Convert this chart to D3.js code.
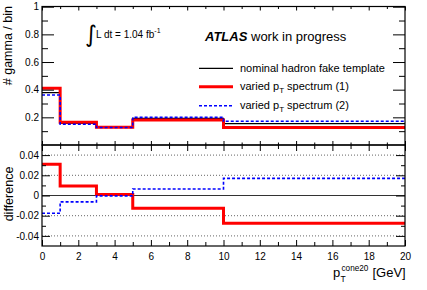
<!DOCTYPE html>
<html>
<head>
<meta charset="utf-8">
<script src="https://cdn.jsdelivr.net/npm/d3@7"></script>
<style>
  html, body { margin: 0; padding: 0; background: #fff; }
  svg { display: block; font-family: "Liberation Sans", Arial, Helvetica, sans-serif; }
</style>
</head>
<body>
<svg id="chart" width="427" height="290"></svg>
<script>
// ---- data ----
const binEdges   = [0, 1, 3, 5, 10, 20];
const nominal    = [0.379, 0.156, 0.127, 0.193, 0.1545];
const variedOne  = [0.410, 0.165, 0.128, 0.180, 0.127];
const variedTwo  = [0.361, 0.150, 0.127, 0.1995, 0.1715];
const diffOne    = [0.031, 0.0094, 0.001, -0.0127, -0.0275];
const diffTwo    = [-0.0176, -0.0063, -0.0004, 0.0065, 0.017];
const xMajorTicks = [0, 2, 4, 6, 8, 10, 12, 14, 16, 18, 20];
const xMinorTicks = [1, 3, 5, 7, 9, 11, 13, 15, 17, 19];
const topYMajor  = [0.2, 0.4, 0.6, 0.8, 1];
const topYMinor  = [0.1, 0.3, 0.5, 0.7, 0.9];
const diffYMajor = [-0.04, -0.02, 0, 0.02, 0.04];
const diffYMinor = [-0.03, -0.01, 0.01, 0.03];
const diffGrid   = [-0.04, -0.02, 0.02, 0.04];
const legendLabels = ["nominal hadron fake template", "varied p_T spectrum (1)", "varied p_T spectrum (2)"];

const svg = d3.select("#chart");
const L = 42, R = 405;
const topT = 6.5, topB = 145, botT = 145, botB = 246;

const x = d3.scaleLinear().domain([0, 20]).range([L, R]);
const yTop = d3.scaleLinear().domain([0, 1]).range([topB, 6.7]);
const yBot = d3.scaleLinear().domain([-0.05, 0.05]).range([botB, botT]);

const styles = [
  { stroke: "#000", width: 1.2, dash: null },
  { stroke: "#ff0000", width: 3, dash: null },
  { stroke: "#0000ff", width: 1.6, dash: "3,2" }
];

function stepPoints(vals) {
  return binEdges.map((e, i) => [e, vals[Math.min(i, vals.length - 1)]]);
}
function drawStep(g, vals, yScale, st) {
  const line = d3.line().x(d => x(d[0])).y(d => yScale(d[1])).curve(d3.curveStepAfter);
  g.append("path").datum(stepPoints(vals)).attr("d", line)
    .attr("fill", "none").attr("stroke", st.stroke).attr("stroke-width", st.width)
    .attr("stroke-dasharray", st.dash);
}
function cleanAxis(g) { g.select(".domain").remove(); g.selectAll("line").attr("stroke", "#000"); }

// ---- bottom panel grid ----
const gGrid = svg.append("g");
gGrid.selectAll("line").data(diffGrid).join("line")
  .attr("x1", L).attr("x2", R).attr("y1", d => yBot(d)).attr("y2", d => yBot(d))
  .attr("stroke", "#666").attr("stroke-width", 1).attr("stroke-dasharray", "1,2");
gGrid.append("line").attr("x1", L).attr("x2", R).attr("y1", yBot(0)).attr("y2", yBot(0))
  .attr("stroke", "#333").attr("stroke-width", 1.2);

// ---- histograms ----
const gTop = svg.append("g");
drawStep(gTop, nominal, yTop, styles[0]);
drawStep(gTop, variedOne, yTop, styles[1]);
drawStep(gTop, variedTwo, yTop, styles[2]);
const gBot = svg.append("g");
drawStep(gBot, diffOne, yBot, styles[1]);
drawStep(gBot, diffTwo, yBot, styles[2]);

// ---- axes ----
const fmt = d => String(d).replace("\u2212", "-");
// top panel
svg.append("g").attr("transform", `translate(${L},0)`)
  .call(d3.axisLeft(yTop).tickValues(topYMinor).tickSize(-6).tickFormat("")).call(cleanAxis);
svg.append("g").attr("transform", `translate(${L},0)`)
  .call(d3.axisLeft(yTop).tickValues(topYMajor).tickSize(-12).tickPadding(3).tickFormat(fmt))
  .call(cleanAxis).call(g => g.selectAll("text").attr("font-size", 10).attr("fill", "#000").attr("font-family", null));
svg.append("g").attr("transform", `translate(${R},0)`)
  .call(d3.axisRight(yTop).tickValues(topYMinor).tickSize(-6).tickFormat("")).call(cleanAxis);
svg.append("g").attr("transform", `translate(${R},0)`)
  .call(d3.axisRight(yTop).tickValues(topYMajor).tickSize(-12).tickFormat("")).call(cleanAxis);
svg.append("g").attr("transform", `translate(0,${topB})`)
  .call(d3.axisBottom(x).tickValues(xMajorTicks).tickSize(-4).tickFormat("")).call(cleanAxis);
svg.append("g").attr("transform", `translate(0,${topB})`)
  .call(d3.axisBottom(x).tickValues(xMinorTicks).tickSize(-2.5).tickFormat("")).call(cleanAxis);
svg.append("g").attr("transform", `translate(0,${topT})`)
  .call(d3.axisTop(x).tickValues(xMajorTicks).tickSize(-4).tickFormat("")).call(cleanAxis);
svg.append("g").attr("transform", `translate(0,${topT})`)
  .call(d3.axisTop(x).tickValues(xMinorTicks).tickSize(-2.5).tickFormat("")).call(cleanAxis);

// bottom panel
svg.append("g").attr("transform", `translate(${L},0)`)
  .call(d3.axisLeft(yBot).tickValues(diffYMinor).tickSize(-4).tickFormat("")).call(cleanAxis);
svg.append("g").attr("transform", `translate(${L},0)`)
  .call(d3.axisLeft(yBot).tickValues(diffYMajor).tickSize(-8).tickPadding(3).tickFormat(fmt))
  .call(cleanAxis).call(g => g.selectAll("text").attr("font-size", 10).attr("fill", "#000").attr("font-family", null));
svg.append("g").attr("transform", `translate(${R},0)`)
  .call(d3.axisRight(yBot).tickValues(diffYMinor).tickSize(-4).tickFormat("")).call(cleanAxis);
svg.append("g").attr("transform", `translate(${R},0)`)
  .call(d3.axisRight(yBot).tickValues(diffYMajor).tickSize(-9).tickFormat("")).call(cleanAxis);
svg.append("g").attr("transform", `translate(0,${botT})`)
  .call(d3.axisTop(x).tickValues(xMajorTicks).tickSize(-6).tickFormat("")).call(cleanAxis);
svg.append("g").attr("transform", `translate(0,${botT})`)
  .call(d3.axisTop(x).tickValues(xMinorTicks).tickSize(-4).tickFormat("")).call(cleanAxis);
svg.append("g").attr("transform", `translate(0,${botB})`)
  .call(d3.axisBottom(x).tickValues(xMinorTicks).tickSize(-4).tickFormat("")).call(cleanAxis);
svg.append("g").attr("transform", `translate(0,${botB})`)
  .call(d3.axisBottom(x).tickValues(xMajorTicks).tickSize(-6).tickPadding(7).tickFormat(fmt))
  .call(cleanAxis).call(g => g.selectAll("text").attr("font-size", 10).attr("fill", "#000").attr("font-family", null));

// frames
svg.append("rect").attr("x", L).attr("y", topT).attr("width", R - L).attr("height", topB - topT)
  .attr("fill", "none").attr("stroke", "#000").attr("stroke-width", 1.2);
svg.append("rect").attr("x", L).attr("y", botT).attr("width", R - L).attr("height", botB - botT)
  .attr("fill", "none").attr("stroke", "#000").attr("stroke-width", 1.2);

// ---- axis titles ----
svg.append("text").attr("transform", "translate(11.5,6) rotate(-90)")
  .attr("text-anchor", "end").attr("font-size", 12.5).text("# gamma / bin");
svg.append("text").attr("transform", "translate(13,194) rotate(-90)")
  .attr("text-anchor", "middle").attr("font-size", 12.5).text("difference");
const xt = svg.append("text").attr("font-size", 13);
xt.append("tspan").attr("x", 333).attr("y", 277).text("p");
xt.append("tspan").attr("x", 340.5).attr("y", 282).attr("font-size", 8.5).text("T");
xt.append("tspan").attr("x", 341.5).attr("y", 270.5).attr("font-size", 8.2).text("cone20");
xt.append("tspan").attr("x", 372.5).attr("y", 277).text("[GeV]");

// ---- annotations ----
svg.append("text").attr("x", 85).attr("y", 42).attr("font-size", 23)
  .attr("font-family", "DejaVu Sans").text("\u222B");
const lum = svg.append("text").attr("x", 96).attr("y", 38).attr("font-size", 10);
lum.append("tspan").text("L dt = 1.04 fb");
lum.append("tspan").attr("dy", -5).attr("font-size", 7).text("-1");

const atl = svg.append("text").attr("x", 205).attr("y", 40.5).attr("font-size", 13);
atl.append("tspan").attr("font-weight", "bold").attr("font-style", "italic").text("ATLAS");
atl.append("tspan").text(" work in progress");

// ---- legend ----
const legY = [68.3, 86.7, 105.7];
legendLabels.forEach((lab, i) => {
  const st = styles[i];
  svg.append("line").attr("x1", 199).attr("x2", 233).attr("y1", legY[i]).attr("y2", legY[i])
    .attr("stroke", st.stroke).attr("stroke-width", st.width).attr("stroke-dasharray", st.dash);
  const t = svg.append("text").attr("x", 240).attr("y", legY[i] + 3.7).attr("font-size", 11);
  const parts = lab.split("p_T");
  if (parts.length === 1) {
    t.text(lab);
  } else {
    t.append("tspan").text(parts[0] + "p");
    t.append("tspan").attr("dy", 3).attr("font-size", 8).text("T");
    t.append("tspan").attr("dy", -3).text(parts[1]);
  }
});
</script>
</body>
</html>
